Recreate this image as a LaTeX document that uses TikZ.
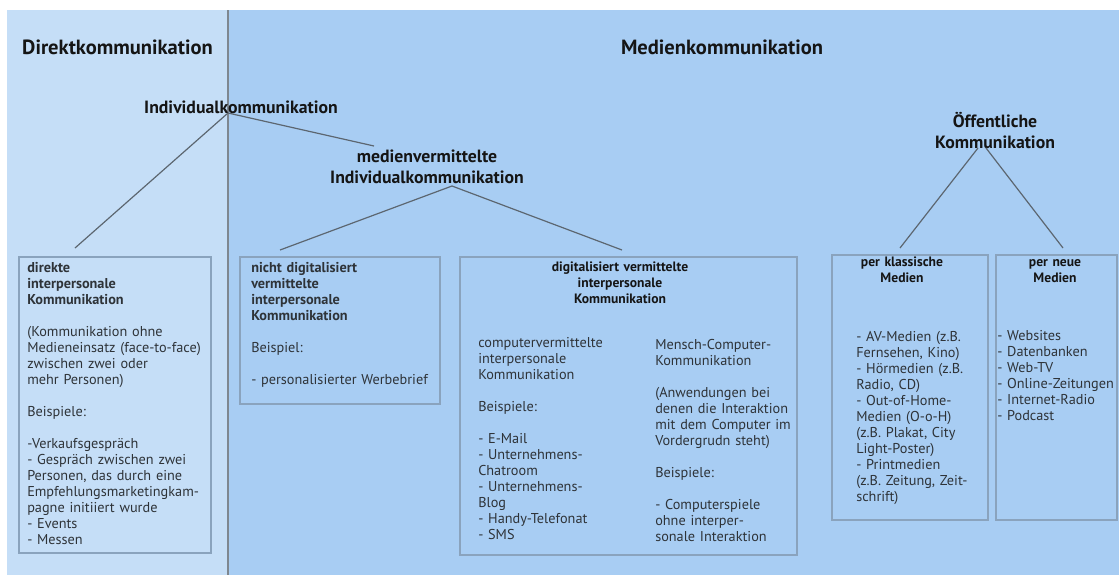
\documentclass[tikz,border=0pt]{standalone}
\usepackage{fontspec}
\setmainfont{PT Sans}
\usetikzlibrary{fit}
\definecolor{paneldirekt}{HTML}{C5DEF7}
\definecolor{panelmedien}{HTML}{A8CDF3}
\definecolor{boxline}{HTML}{8AA3BD}
\definecolor{linkline}{HTML}{5C6670}
\definecolor{divider}{HTML}{7E8790}
\definecolor{ink}{HTML}{151515}
\definecolor{bodyink}{HTML}{2E3338}
\begin{document}
\begin{tikzpicture}[x=0.75pt,y=-0.75pt,
  title/.style={font=\fontsize{15.4}{18}\selectfont\bfseries, text=ink, inner sep=0},
  subtitle/.style={font=\fontsize{13.3}{15.75}\selectfont\bfseries, text=ink, inner sep=0, align=center},
  panelbox/.style={draw=boxline, line width=0.9pt, inner sep=0},
  bodytext/.style={font=\fontsize{10.7}{12}\selectfont, text=bodyink, inner sep=0, align=left, anchor=base west, text width=160pt},
  headtext/.style={font=\fontsize{10.2}{12}\selectfont\bfseries, text=ink, inner sep=0, align=center, anchor=base, text width=160pt},
  link/.style={draw=linkline, line width=0.9pt},
]
\useasboundingbox (0,0) rectangle (1119,575);
\fill[white] (0,0) rectangle (1119,575);
% the two areas of communication
\fill[paneldirekt] (7,10) rectangle (228,575);
\fill[panelmedien] (228,10) rectangle (1119,575);
\draw[divider, line width=1.2pt] (228,10) -- (228,575);

% headings
\node[title] (direkt) at (117.5,47) {Direktkommunikation};
\node[title] (medien) at (722,47) {Medienkommunikation};
\node[subtitle] (indiv) at (241,107) {Individualkommunikation};
\node[subtitle] (mvind) at (427,167) {medienvermittelte\\Individualkommunikation};
\node[subtitle] (oeff) at (995,131) {Öffentliche\\Kommunikation};

% frames
\node[panelbox, fit={(19,257) (211,553)}] (boxA) {};
\node[panelbox, fit={(240,257) (440,404)}] (boxB) {};
\node[panelbox, fit={(460,257) (797,555)}] (boxC) {};
\node[panelbox, fit={(832,255) (988,520)}] (boxD) {};
\node[panelbox, fit={(996,255) (1117,520)}] (boxE) {};

% box contents
\node[bodytext] (txtA) at (27,272) {\textbf{direkte}\\\textbf{interpersonale}\\\textbf{Kommunikation}\\[12pt]
(Kommunikation ohne\\Medieneinsatz (face-to-face)\\zwischen zwei oder\\mehr Personen)\\[12pt]
Beispiele:\\[12pt]
-Verkaufsgespräch\\- Gespräch zwischen zwei\\Personen, das durch eine\\Empfehlungsmarketingkam-\\pagne initiiert wurde\\- Events\\- Messen};

\node[bodytext] (txtB) at (251,272) {\textbf{nicht digitalisiert}\\\textbf{vermittelte}\\\textbf{interpersonale}\\\textbf{Kommunikation}\\[12pt]
Beispiel:\\[12pt]
- personalisierter Werbebrief};

\node[headtext] (headC) at (620,271) {digitalisiert vermittelte\\interpersonale\\Kommunikation};
\node[bodytext] (txtCl) at (478,347) {computervermittelte\\interpersonale\\Kommunikation\\[12pt]
Beispiele:\\[12pt]
- E-Mail\\- Unternehmens-\\Chatroom\\- Unternehmens-\\Blog\\- Handy-Telefonat\\- SMS};
\node[bodytext] (txtCr) at (655,349) {Mensch-Computer-\\Kommunikation\\[12pt]
(Anwendungen bei\\denen die Interaktion\\mit dem Computer im\\Vordergrudn steht)\\[12pt]
Beispiele:\\[12pt]
- Computerspiele\\ohne interper-\\sonale Interaktion};

\node[headtext] (headD) at (902,266) {per klassische\\Medien};
\node[bodytext] (txtD) at (856,341) {- AV-Medien (z.B.\\Fernsehen, Kino)\\- Hörmedien (z.B.\\Radio, CD)\\- Out-of-Home-\\Medien (O-o-H)\\(z.B. Plakat, City\\Light-Poster)\\- Printmedien\\(z.B. Zeitung, Zeit-\\schrift)};

\node[headtext] (headE) at (1055,266) {per neue\\Medien};
\node[bodytext] (txtE) at (997,340) {- Websites\\- Datenbanken\\- Web-TV\\- Online-Zeitungen\\- Internet-Radio\\- Podcast};

% connector ends
\coordinate (hubInd) at (228,113);
\coordinate (endA) at (75,248);
\coordinate (endMv) at (374,146);
\coordinate (hubMv) at (452,186);
\coordinate (endB) at (280,250);
\coordinate (endC) at (622,250);
\coordinate (hubOeL) at (978,148);
\coordinate (hubOeR) at (986,148);
\coordinate (endD) at (900,248);
\coordinate (endE) at (1063,248);

\draw[link] (hubInd) -- (endA);
\draw[link] (hubInd) -- (endMv);
\draw[link] (hubMv) -- (endB);
\draw[link] (hubMv) -- (endC);
\draw[link] (hubOeL) -- (endD);
\draw[link] (hubOeR) -- (endE);
\end{tikzpicture}
\end{document}
